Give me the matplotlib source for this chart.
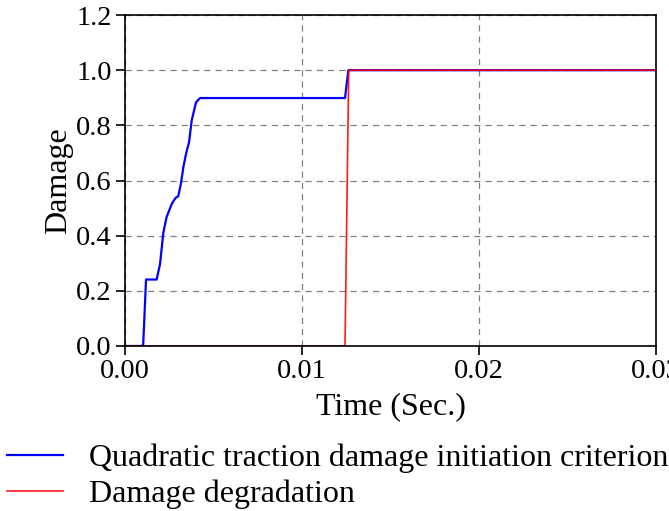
import matplotlib.pyplot as plt

plt.rcParams['font.family'] = ['Liberation Serif', 'DejaVu Serif']
plt.rcParams['mathtext.fontset'] = 'stix'

# blue: quadratic traction damage initiation criterion
t_init = [0.0, 0.00094, 0.00103, 0.00119, 0.00179, 0.00198, 0.00217, 0.00235,
          0.00264, 0.00286, 0.00301, 0.00316, 0.00330, 0.00345, 0.00362,
          0.00377, 0.00401, 0.00424, 0.01243, 0.01262, 0.031]
d_init = [0.0, 0.0, 0.005, 0.241, 0.241, 0.297, 0.412, 0.467,
          0.515, 0.537, 0.543, 0.588, 0.649, 0.697, 0.739,
          0.818, 0.883, 0.899, 0.899, 1.0, 1.0]

# red: damage degradation
t_deg = [0.0, 0.01243, 0.01264, 0.031]
d_deg = [0.0, 0.0, 1.0, 1.0]

fig = plt.figure(figsize=(6.69, 5.11), dpi=100)
ax = fig.add_axes([0.1868, 0.3229, 0.7938, 0.6477])

ax.plot(t_init, d_init, color='#0000ff', lw=1.6,
        label='Quadratic traction damage initiation criterion')
ax.plot(t_deg, d_deg, color='#ff0000', lw=1.2, alpha=0.9, label='Damage degradation')

ax.set_xlim(0, 0.03)
ax.set_ylim(0, 1.2)
ax.set_xticks([0, 0.01, 0.02, 0.03])
ax.set_xticklabels(['0.00', '0.01', '0.02', '0.03'])
ax.set_yticks([0, 0.2, 0.4, 0.6, 0.8, 1.0, 1.2])
ax.set_yticklabels(['0.0', '0.2', '0.4', '0.6', '0.8', '1.0', '1.2'])
ax.tick_params(labelsize=20.5, length=6.5, width=1.2, direction='out', pad=3)
ax.grid(True, color='gray', ls=(0, (5, 4)), lw=0.9)
for s in ax.spines.values():
    s.set_linewidth(1.2)

ax.set_xlabel('Time (Sec.)', fontsize=23, labelpad=6)
ax.set_ylabel('Damage', fontsize=23, labelpad=2)

ax.legend(loc='upper left', bbox_to_anchor=(-0.222, -0.294), frameon=False,
          fontsize=23, handlelength=1.75, handletextpad=0.8, labelspacing=0.21,
          borderaxespad=0, borderpad=0)

fig.savefig('out.png', dpi=100)
